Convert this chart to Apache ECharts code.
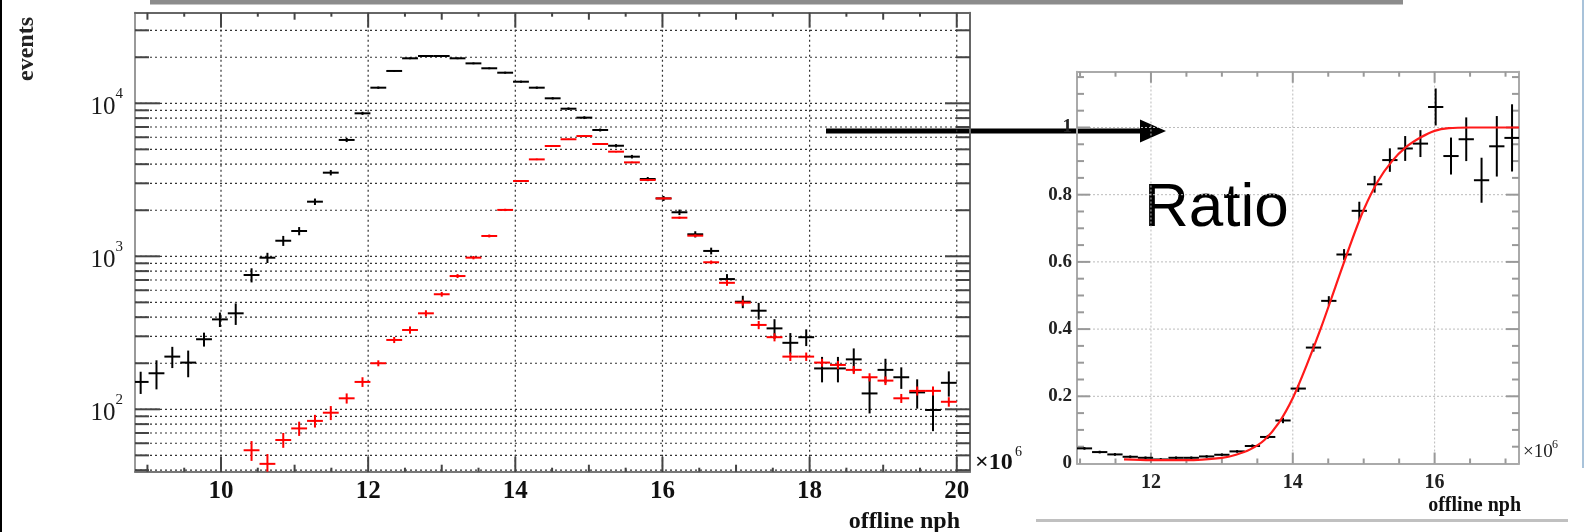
<!DOCTYPE html>
<html><head><meta charset="utf-8">
<script src="https://cdn.jsdelivr.net/npm/echarts@6.0.0/dist/echarts.min.js"></script>
<style>html,body{margin:0;padding:0;background:#fff}#c{width:1588px;height:532px}</style>
</head><body><div id="c"></div>
<script>
// ---------- data ----------
const binCenters = [8.908, 9.123, 9.338, 9.554, 9.769, 9.985, 10.200, 10.415, 10.631, 10.846, 11.062, 11.277, 11.492, 11.708, 11.923, 12.138, 12.354, 12.569, 12.785, 13.000, 13.215, 13.431, 13.646, 13.862, 14.077, 14.292, 14.508, 14.723, 14.938, 15.154, 15.369, 15.585, 15.800, 16.015, 16.231, 16.446, 16.662, 16.877, 17.092, 17.308, 17.523, 17.738, 17.954, 18.169, 18.385, 18.600, 18.815, 19.031, 19.246, 19.462, 19.677, 19.892];
const binHalfWidth = 0.1077;
const blackCounts = [151,172,221,202,287,387,424,755,979,1264,1463,2275,3520,5760,8600,12650,16270,19680,20370,20370,19680,18240,16940,15850,13840,12650,10780,9220,8060,6690,5280,4480,3200,2390,1940,1393,1084,710,505,441,338,272,296,185,185,212,127,181,162,129,99,149];
const blackErrors = [25,37,35,40,30,42,68,80,75,95,90,110,140,180,200,220,240,260,260,260,260,250,240,240,220,210,190,180,170,150,130,120,100,90,80,65,55,55,47,55,50,43,37,35,35,38,33,33,26,28,27,28];
const redCounts = [null,null,null,null,null,null,null,54,44,63,75,84,95,118,151,200,284,330,424,565,743,980,1358,2010,3105,4300,5260,5820,6110,5420,4830,4110,3155,2390,1787,1364,914,671,498,356,296,221,221,202,195,181,162,154,118,132,132,112];
const redErrors = [null,null,null,null,null,null,null,8,7,7,8,8,10,9,11,9,13,18,20,20,22,25,30,35,40,50,55,60,60,55,50,45,40,35,30,28,25,30,22,22,18,14,14,12,12,11,10,10,8,9,9,8];
const ratioValues = [null,null,null,null,null,null,null,null,null,null,0.045,0.034,0.027,0.020,0.017,0.012,0.017,0.017,0.021,0.026,0.036,0.052,0.079,0.128,0.223,0.345,0.484,0.622,0.752,0.831,0.903,0.9375,0.952,1.061,0.915,0.965,0.843,0.944,0.969,null,null,null,null,null,null,null,null,null,null,null,null,null];
const ratioErrors = [null,null,null,null,null,null,null,null,null,null,0.004,0.004,0.004,0.004,0.004,0.004,0.004,0.004,0.004,0.004,0.004,0.005,0.006,0.008,0.01,0.012,0.014,0.016,0.027,0.025,0.035,0.037,0.04,0.055,0.055,0.065,0.067,0.09,0.1,null,null,null,null,null,null,null,null,null,null,null,null,null];
const fitX = [11.62, 12.0, 12.5, 13.0, 13.2, 13.4, 13.6, 13.8, 14.0, 14.2, 14.4, 14.6, 14.8, 15.0, 15.2, 15.4, 15.6, 15.8, 16.0, 16.2, 16.5, 17.19];
const fitY = [0.012, 0.010, 0.010, 0.017, 0.026, 0.042, 0.070, 0.120, 0.195, 0.295, 0.405, 0.525, 0.645, 0.755, 0.840, 0.900, 0.942, 0.970, 0.990, 0.998, 1.0, 1.0];

// axis ranges and tick values
const histXRange = [8.831, 20.18];
const histYRange = [39.1, 39100];
const ratioXRange = [10.957, 17.19];
const ratioYRange = [0, 1.166];
const histXTicks = [9,9.5,10,10.5,11,11.5,12,12.5,13,13.5,14,14.5,15,15.5,16,16.5,17,17.5,18,18.5,19,19.5,20];
const histYTicks = [40,50,60,70,80,90,100,200,300,400,500,600,700,800,900,1000,2000,3000,4000,5000,6000,7000,8000,9000,10000,20000,30000];
const ratioXTicks = [11,11.5,12,12.5,13,13.5,14,14.5,15,15.5,16,16.5,17];
const ratioYTicks = [0.05,0.1,0.15,0.2,0.25,0.3,0.35,0.4,0.45,0.5,0.55,0.6,0.65,0.7,0.75,0.8,0.85,0.9,0.95,1.0,1.05,1.1,1.15];

// ---------- helpers ----------
const SERIF = '"Liberation Serif", "DejaVu Serif", serif';
function clipSeg(x1,y1,x2,y2,cs){
  const L=cs.x, R=cs.x+cs.width, T=cs.y, B=cs.y+cs.height;
  if (Math.abs(y1-y2) < 1e-6){
    if (y1 < T-0.5 || y1 > B+0.5) return null;
    const a=Math.max(Math.min(x1,x2),L), b=Math.min(Math.max(x1,x2),R);
    if (a>=b) return null; return {x1:a,y1:y1,x2:b,y2:y2};
  } else {
    if (x1 < L-0.5 || x1 > R+0.5) return null;
    const a=Math.max(Math.min(y1,y2),T), b=Math.min(Math.max(y1,y2),B);
    if (a>=b) return null; return {x1:x1,y1:a,x2:x2,y2:b};
  }
}
function crossRender(color, width){
  return function(params, api){
    const x=api.value(0), y=api.value(1), e=api.value(2), hw=api.value(3);
    const cs=params.coordSys;
    const a=api.coord([x-hw,y]), b=api.coord([x+hw,y]);
    const c=api.coord([x,y-e]), d=api.coord([x,y+e]);
    const ch=[];
    const h=clipSeg(a[0],a[1],b[0],b[1],cs);
    if (h) ch.push({type:'line',shape:h,style:{stroke:color,lineWidth:width}});
    const v=clipSeg(c[0],c[1],d[0],d[1],cs);
    if (v) ch.push({type:'line',shape:v,style:{stroke:color,lineWidth:width}});
    return {type:'group',children:ch};
  };
}
function crossData(vals, errs){
  const out=[];
  for (let i=0;i<binCenters.length;i++){
    if (vals[i]==null) continue;
    out.push([binCenters[i], vals[i], errs[i], binHalfWidth]);
  }
  return out;
}
function hLines(xr, o){
  return function(params, api){
    const v=api.value(1);
    const p0=api.coord([xr[0],v]), p1=api.coord([xr[1],v]);
    const len=o.len(v); const ch=[];
    if (o.grid(v)) ch.push({type:'line',shape:{x1:p0[0],y1:p0[1],x2:p1[0],y2:p1[1]},style:{stroke:o.gridColor,lineWidth:o.gridWidth||1,lineDash:o.dash}});
    ch.push({type:'line',shape:{x1:p0[0],y1:p0[1],x2:p0[0]+len,y2:p0[1]},style:{stroke:o.tickColor,lineWidth:o.tickWidth}});
    ch.push({type:'line',shape:{x1:p1[0]-len,y1:p1[1],x2:p1[0],y2:p1[1]},style:{stroke:o.tickColor,lineWidth:o.tickWidth}});
    return {type:'group',children:ch};
  };
}
function vLines(yr, o){
  return function(params, api){
    const v=api.value(0);
    const p0=api.coord([v,yr[0]]), p1=api.coord([v,yr[1]]);
    const len=o.len(v); const ch=[];
    if (o.grid(v)) ch.push({type:'line',shape:{x1:p0[0],y1:p0[1],x2:p1[0],y2:p1[1]},style:{stroke:o.gridColor,lineWidth:o.gridWidth||1,lineDash:o.dash}});
    ch.push({type:'line',shape:{x1:p0[0],y1:p0[1],x2:p0[0],y2:p0[1]-len},style:{stroke:o.tickColor,lineWidth:o.tickWidth}});
    ch.push({type:'line',shape:{x1:p1[0],y1:p1[1],x2:p1[0],y2:p1[1]+len},style:{stroke:o.tickColor,lineWidth:o.tickWidth}});
    return {type:'group',children:ch};
  };
}
const isInt = v => Math.abs(v-Math.round(v))<1e-6;
const isDecade = v => isInt(Math.log10(v));

const chart = echarts.init(document.getElementById('c'), null, {renderer:'canvas'});
const option = {
  animation:false,
  backgroundColor:'#ffffff',
  grid:[
    {left:135, top:12.7, width:835, height:459, containLabel:false, outerBoundsMode:'none'},
    {left:1077, top:71.7, width:442, height:391.8, containLabel:false, outerBoundsMode:'none'}
  ],
  xAxis:[
    {gridIndex:0, type:'value', position:'bottom', min:histXRange[0], max:histXRange[1],
     axisLine:{show:true,onZero:false,lineStyle:{color:'#777',width:2}}, axisTick:{show:false}, splitLine:{show:false},
     axisLabel:{margin:7, color:'#111', fontFamily:SERIF, fontWeight:'bold', fontSize:25,
       formatter:v=> (isInt(v) && Math.round(v)%2===0) ? String(Math.round(v)) : ''}},
    {gridIndex:0, type:'value', position:'top', min:histXRange[0], max:histXRange[1],
     axisLine:{show:true,onZero:false,lineStyle:{color:'#666',width:2}}, axisTick:{show:false}, splitLine:{show:false}, axisLabel:{show:false}},
    {gridIndex:1, type:'value', position:'bottom', min:ratioXRange[0], max:ratioXRange[1],
     axisLine:{show:true,onZero:false,lineStyle:{color:'#aaa',width:2}}, axisTick:{show:false}, splitLine:{show:false},
     axisLabel:{margin:9, color:'#222', fontFamily:SERIF, fontWeight:'bold', fontSize:20,
       formatter:v=> (isInt(v) && Math.round(v)%2===0) ? String(Math.round(v)) : ''}},
    {gridIndex:1, type:'value', position:'top', min:ratioXRange[0], max:ratioXRange[1],
     axisLine:{show:true,onZero:false,lineStyle:{color:'#aaa',width:2}}, axisTick:{show:false}, splitLine:{show:false}, axisLabel:{show:false}}
  ],
  yAxis:[
    {gridIndex:0, type:'log', logBase:10, position:'left', min:histYRange[0], max:histYRange[1],
     axisLine:{show:true,onZero:false,lineStyle:{color:'#999',width:2}}, axisTick:{show:false}, splitLine:{show:false}, minorTick:{show:false},
     axisLabel:{margin:12, color:'#222',
       formatter:v=>{ const e=Math.log10(v); if(!isInt(e)) return ''; return '{b|10}{s|'+Math.round(e)+'}'; },
       rich:{ b:{fontFamily:SERIF, fontSize:25, color:'#1a1a1a', padding:[8,0,0,0]}, s:{fontFamily:SERIF, fontSize:15, color:'#1a1a1a', verticalAlign:'top'} }}},
    {gridIndex:0, type:'log', logBase:10, position:'right', min:histYRange[0], max:histYRange[1],
     axisLine:{show:true,onZero:false,lineStyle:{color:'#666',width:2}}, axisTick:{show:false}, splitLine:{show:false}, axisLabel:{show:false}},
    {gridIndex:1, type:'value', position:'left', min:ratioYRange[0], max:ratioYRange[1],
     axisLine:{show:true,onZero:false,lineStyle:{color:'#aaa',width:2}}, axisTick:{show:false}, splitLine:{show:false},
     axisLabel:{margin:5, color:'#222', fontFamily:SERIF, fontWeight:'bold', fontSize:19,
       formatter:v=>{ if (Math.abs(v*5-Math.round(v*5))>1e-6) return ''; const r=Math.round(v*5)/5; return r===0?'0':(r===1?'1':r.toFixed(1)); }}},
    {gridIndex:1, type:'value', position:'right', min:ratioYRange[0], max:ratioYRange[1],
     axisLine:{show:true,onZero:false,lineStyle:{color:'#aaa',width:2}}, axisTick:{show:false}, splitLine:{show:false}, axisLabel:{show:false}}
  ],
  series:[
    {type:'custom', name:'histYGrid', xAxisIndex:0, yAxisIndex:0, z:1, silent:true,
     data: histYTicks.map(v=>[histXRange[0], v]),
     renderItem: hLines(histXRange, {grid:v=>true, len:v=>isDecade(v)?25:14, gridColor:'#333', gridWidth:1.2, dash:[2,3], tickColor:'#444', tickWidth:2})},
    {type:'custom', name:'histXGrid', xAxisIndex:0, yAxisIndex:0, z:1, silent:true,
     data: histXTicks.map(v=>[v, histYRange[0]]),
     renderItem: vLines(histYRange, {grid:v=>isInt(v)&&Math.round(v)%2===0, len:v=>isInt(v)?(Math.round(v)%2===0?15:7):4, gridColor:'#333', gridWidth:1.2, dash:[2,3], tickColor:'#444', tickWidth:2})},
    {type:'custom', name:'all events', xAxisIndex:0, yAxisIndex:0, z:3, silent:true,
     data: crossData(blackCounts, blackErrors), renderItem: crossRender('#000000', 2)},
    {type:'custom', name:'triggered', xAxisIndex:0, yAxisIndex:0, z:4, silent:true,
     data: crossData(redCounts, redErrors), renderItem: crossRender('#ff0000', 2)},
    {type:'custom', name:'ratioYGrid', xAxisIndex:2, yAxisIndex:2, z:1, silent:true,
     data: ratioYTicks.map(v=>[ratioXRange[0], v]),
     renderItem: hLines(ratioXRange, {grid:v=>Math.abs(v*5-Math.round(v*5))<1e-6, len:v=>Math.abs(v*5-Math.round(v*5))<1e-6?13:7, gridColor:'#bbb', dash:[2,2], tickColor:'#999', tickWidth:2})},
    {type:'custom', name:'ratioXGrid', xAxisIndex:2, yAxisIndex:2, z:1, silent:true,
     data: ratioXTicks.map(v=>[v, ratioYRange[0]]),
     renderItem: vLines(ratioYRange, {grid:v=>isInt(v)&&Math.round(v)%2===0, len:v=>(isInt(v)&&Math.round(v)%2===0)?11:5, gridColor:'#bbb', dash:[2,2], tickColor:'#999', tickWidth:2})},
    {type:'custom', name:'ratio', xAxisIndex:2, yAxisIndex:2, z:3, silent:true,
     data: crossData(ratioValues, ratioErrors), renderItem: crossRender('#000000', 2)},
    {type:'line', name:'fit', xAxisIndex:2, yAxisIndex:2, z:5, silent:true,
     data: fitX.map((x,i)=>[x, fitY[i]]), smooth:0.3, showSymbol:false, symbol:'none', clip:true,
     lineStyle:{color:'#ff1a1a', width:2.2}}
  ],
  graphic:[
    {type:'rect', shape:{x:0,y:0,width:2,height:532}, style:{fill:'#000'}},
    {type:'rect', shape:{x:150,y:0,width:1253,height:4.5}, style:{fill:'#8c8c8c'}},
    {type:'rect', shape:{x:1036,y:519,width:532,height:3}, style:{fill:'#c0c0c0'}},
    {type:'rect', shape:{x:1582,y:0,width:2,height:468}, style:{fill:'#a9c3da'}},
    {type:'text', x:27, y:49, rotation:Math.PI/2, style:{text:'events', font:'bold 24px '+SERIF, fill:'#222', textAlign:'center', textVerticalAlign:'middle', align:'center', verticalAlign:'middle'}},
    {type:'text', x:960, y:522, style:{text:'offline nph', font:'bold 24px '+SERIF, fill:'#111', textAlign:'right', textVerticalAlign:'middle', align:'right', verticalAlign:'middle'}},
    {type:'text', x:975, y:463, style:{text:'×10', font:'bold 24px '+SERIF, fill:'#111', textAlign:'left', textVerticalAlign:'middle', align:'left', verticalAlign:'middle'}},
    {type:'text', x:1015, y:452, style:{text:'6', font:'14px '+SERIF, fill:'#111', textAlign:'left', textVerticalAlign:'middle', align:'left', verticalAlign:'middle'}},
    {type:'text', x:1521, y:506, style:{text:'offline nph', font:'bold 20px '+SERIF, fill:'#111', textAlign:'right', textVerticalAlign:'middle', align:'right', verticalAlign:'middle'}},
    {type:'text', x:1523, y:452, style:{text:'×10', font:'19px '+SERIF, fill:'#222', textAlign:'left', textVerticalAlign:'middle', align:'left', verticalAlign:'middle'}},
    {type:'text', x:1552, y:445, style:{text:'6', font:'12px '+SERIF, fill:'#222', textAlign:'left', textVerticalAlign:'middle', align:'left', verticalAlign:'middle'}},
    {type:'line', shape:{x1:826,y1:131,x2:1142,y2:131}, style:{stroke:'#000', lineWidth:5}},
    {type:'polygon', shape:{points:[[1140,119.5],[1166,131],[1140,142.5]]}, style:{fill:'#000'}},
    {type:'text', x:1144, y:209, style:{text:'Ratio', font:'300 62px "Liberation Sans", "Helvetica Neue", Arial, sans-serif', fill:'#000', textAlign:'left', textVerticalAlign:'middle', align:'left', verticalAlign:'middle'}}
  ]
};
chart.setOption(option);
</script>
</body></html>
